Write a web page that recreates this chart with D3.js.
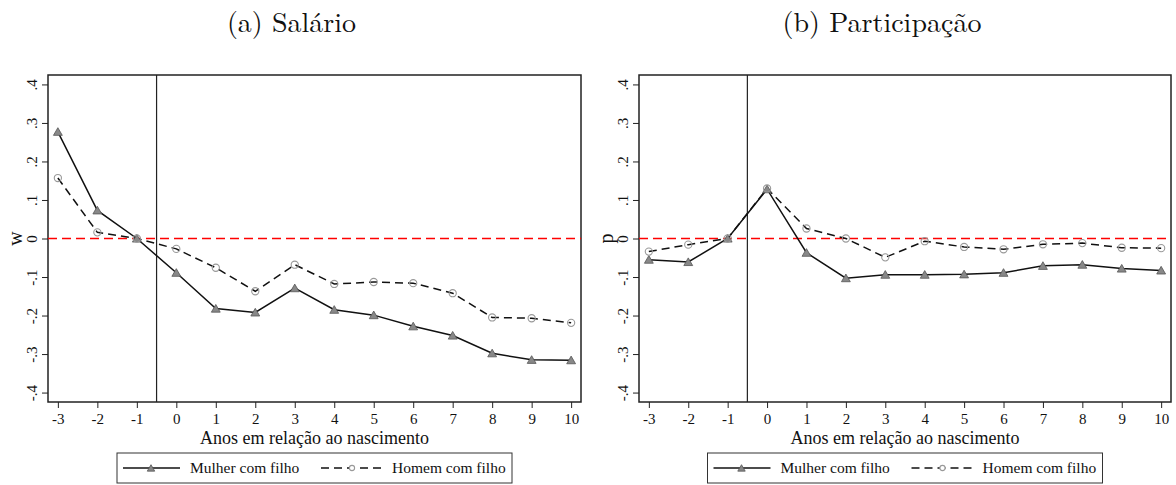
<!DOCTYPE html>
<html><head><meta charset="utf-8">
<script src="https://cdn.jsdelivr.net/npm/d3@7"></script>
<style>body{margin:0;background:#fff;} svg{display:block;}</style>
</head><body>
<svg id="c" width="1176" height="485"></svg>
<script>
const years = [-3,-2,-1,0,1,2,3,4,5,6,7,8,9,10];
const yTicks = [-0.4,-0.3,-0.2,-0.1,0,0.1,0.2,0.3,0.4];
const yTickLabels = ["-.4","-.3","-.2","-.1","0",".1",".2",".3",".4"];
const wMulher = [0.277,0.073,0.0,-0.089,-0.182,-0.192,-0.129,-0.185,-0.199,-0.228,-0.252,-0.298,-0.315,-0.316];
const wHomem  = [0.157,0.016,0.0,-0.027,-0.076,-0.137,-0.068,-0.118,-0.113,-0.116,-0.142,-0.205,-0.207,-0.219];
const pMulher = [-0.055,-0.061,0.0,0.128,-0.037,-0.103,-0.094,-0.094,-0.093,-0.089,-0.071,-0.068,-0.078,-0.083];
const pHomem  = [-0.034,-0.016,0.0,0.130,0.026,0.0,-0.049,-0.007,-0.022,-0.028,-0.015,-0.012,-0.024,-0.025];
const titles = ["(a) Salário","(b) Participação"];
const yLabels = ["w","p"];
const xTitle = "Anos em relação ao nascimento";
const legendLabels = ["Mulher com filho","Homem com filho"];

const svg = d3.select("#c");
const SERIF = '"Liberation Serif","Times New Roman",serif';
const LM = '"Latin Modern Roman","CMU Serif","Liberation Serif",serif';

function panel(x0, x1, title, ylab, mulher, homem) {
  const top = 75, bottom = 402;
  const x = d3.scaleLinear().domain([-3.25, 10.25]).range([x0, x1]);
  const y = d3.scaleLinear().domain([-0.4245, 0.4245]).range([bottom, top]);
  const g = svg.append("g");
  const cx = (x0 + x1) / 2;

  g.append("text").attr("x", cx - 23).attr("y", 32).attr("text-anchor","middle")
    .style("font-family", LM).style("font-size","28px").attr("fill","#111").text(title);

  const xa = g.append("g").attr("transform", `translate(0,${bottom})`)
    .call(d3.axisBottom(x).tickValues(years).tickFormat(d => String(d)).tickSize(6).tickPadding(5));
  const ya = g.append("g").attr("transform", `translate(${x0},0)`)
    .call(d3.axisLeft(y).tickValues(yTicks).tickFormat((d,i)=>yTickLabels[i]).tickSize(6));
  [xa, ya].forEach(a => {
    a.attr("font-family", null);
    a.select(".domain").remove();
    a.selectAll("line").attr("stroke","#222").attr("stroke-width",1);
    a.selectAll("text").style("font-family", SERIF).style("font-size","15px").attr("fill","#111");
  });
  ya.selectAll(".tick text").attr("text-anchor","middle")
    .attr("transform","translate(-16,0) rotate(-90)").attr("x",0).attr("y",0).attr("dy","0.35em");

  g.append("rect").attr("x", x0).attr("y", top).attr("width", x1 - x0).attr("height", bottom - top)
    .attr("fill","none").attr("stroke","#222").attr("stroke-width",1.5);

  g.append("text").attr("transform", `translate(${x0-33},${y(0)}) rotate(-90)`)
    .attr("text-anchor","middle").attr("dy","0.35em").style("font-family", SERIF).style("font-size","20px")
    .attr("fill","#111").text(ylab);

  g.append("text").attr("x", cx).attr("y", 444).attr("text-anchor","middle")
    .style("font-family", SERIF).style("font-size","18px").attr("fill","#111").text(xTitle);

  g.append("line").attr("x1", x(-0.5)).attr("x2", x(-0.5)).attr("y1", top).attr("y2", bottom)
    .attr("stroke","#222").attr("stroke-width",1.2);
  g.append("line").attr("x1", x0).attr("x2", x1).attr("y1", y(0)).attr("y2", y(0))
    .attr("stroke","#f00").attr("stroke-width",1.5).attr("stroke-dasharray","9,5");

  const line = d3.line().x((d,i)=>x(years[i])).y(d=>y(d));
  g.append("path").datum(homem).attr("d", line).attr("fill","none").attr("stroke","#111")
    .attr("stroke-width",1.5).attr("stroke-dasharray","8,5");
  g.append("path").datum(mulher).attr("d", line).attr("fill","none").attr("stroke","#111")
    .attr("stroke-width",1.5);

  const tri = d3.symbol().type(d3.symbolTriangle).size(34);
  g.selectAll(".tri").data(mulher).join("path").attr("class","tri")
    .attr("transform",(d,i)=>`translate(${x(years[i])},${y(d)+1})`).attr("d", tri)
    .attr("fill","#888").attr("stroke","#555").attr("stroke-width",0.8);
  g.selectAll(".circ").data(homem).join("circle").attr("class","circ")
    .attr("cx",(d,i)=>x(years[i])).attr("cy",d=>y(d)).attr("r",3.6)
    .attr("fill","none").attr("stroke","#999").attr("stroke-width",1.1);

  const lw = 395, lx = cx - lw/2, ly = 453, lh = 30;
  const lg = g.append("g");
  lg.append("rect").attr("x", lx).attr("y", ly).attr("width", lw).attr("height", lh)
    .attr("fill","#fff").attr("stroke","#333").attr("stroke-width",1);
  const my = ly + lh/2;
  lg.append("line").attr("x1", lx+6).attr("x2", lx+63).attr("y1", my).attr("y2", my)
    .attr("stroke","#111").attr("stroke-width",1.5);
  lg.append("path").attr("transform",`translate(${lx+34},${my+1})`).attr("d", d3.symbol().type(d3.symbolTriangle).size(24))
    .attr("fill","#888").attr("stroke","#555").attr("stroke-width",0.8);
  lg.append("text").attr("x", lx+73).attr("y", my).attr("dy","0.35em")
    .style("font-family", SERIF).style("font-size","15.5px").attr("fill","#111").text(legendLabels[0]);
  lg.append("line").attr("x1", lx+204).attr("x2", lx+266).attr("y1", my).attr("y2", my)
    .attr("stroke","#111").attr("stroke-width",1.5).attr("stroke-dasharray","8,5");
  lg.append("circle").attr("cx", lx+235).attr("cy", my).attr("r",2.6)
    .attr("fill","#fff").attr("stroke","#999").attr("stroke-width",1.1);
  lg.append("text").attr("x", lx+275).attr("y", my).attr("dy","0.35em")
    .style("font-family", SERIF).style("font-size","15.5px").attr("fill","#111").text(legendLabels[1]);
}

panel(48, 581, titles[0], yLabels[0], wMulher, wHomem);
panel(639, 1171, titles[1], yLabels[1], pMulher, pHomem);
</script>
</body></html>
